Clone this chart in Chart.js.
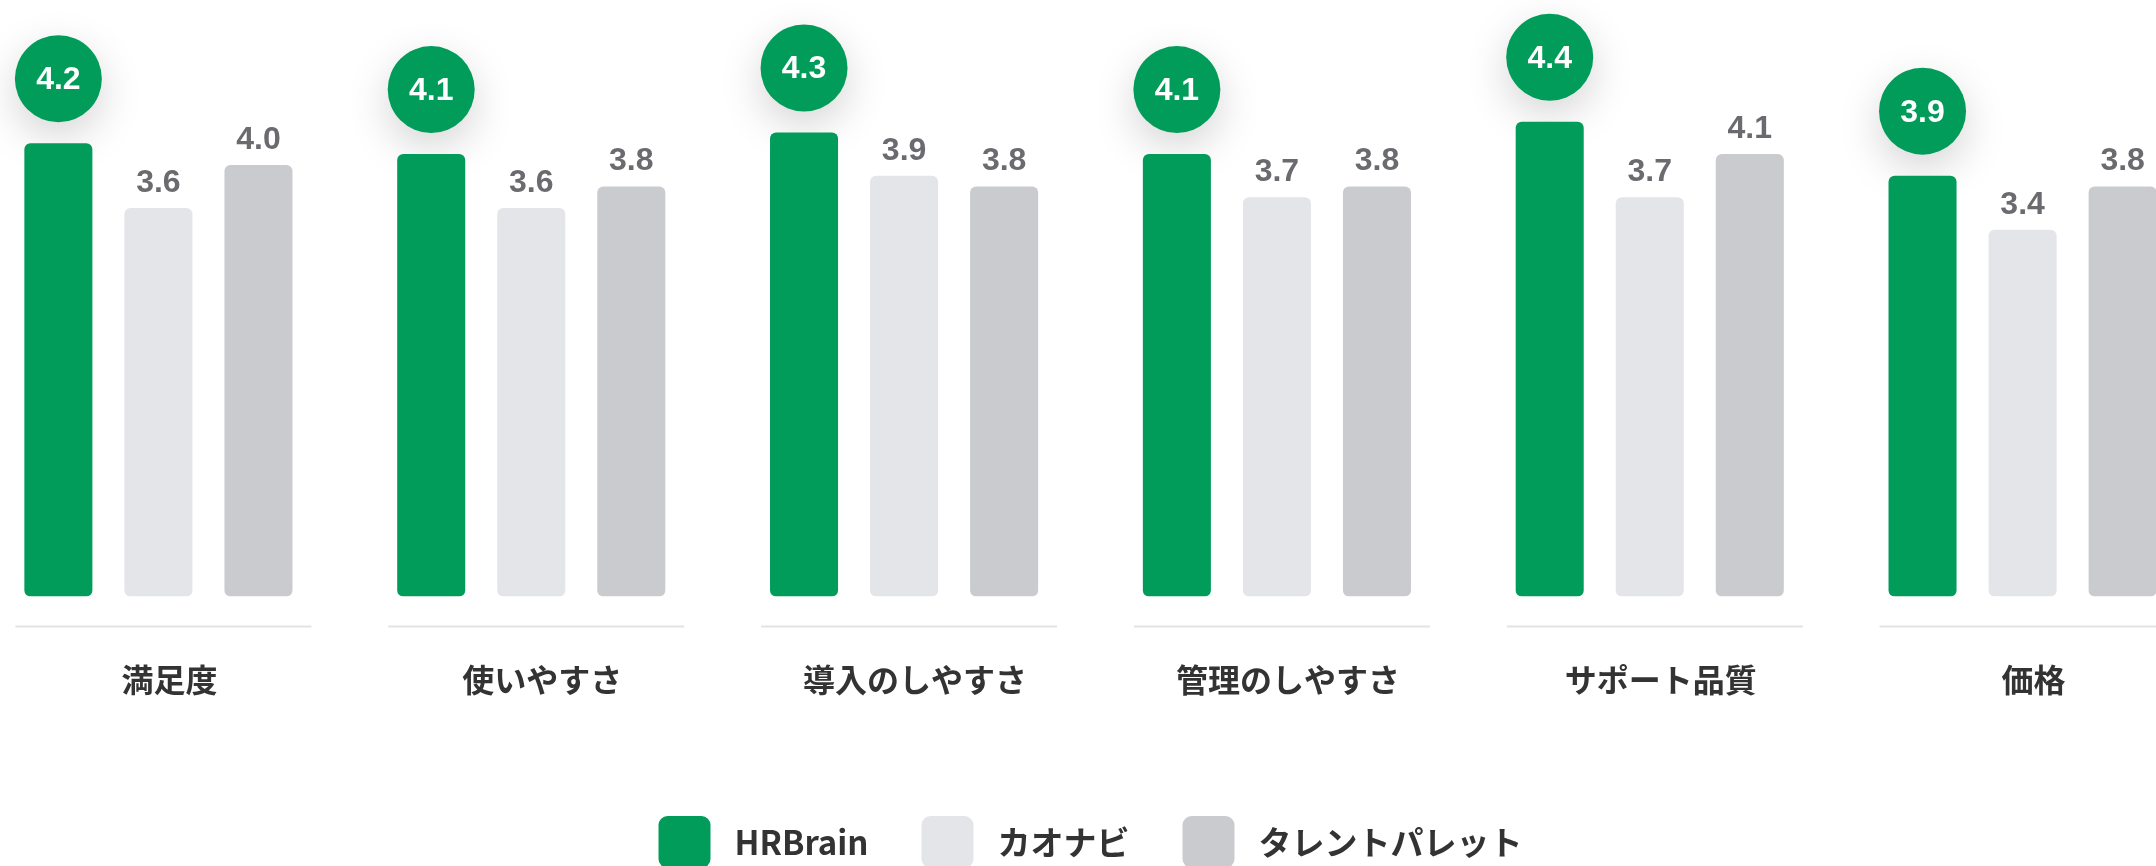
<!DOCTYPE html>
<html>
<head>
<meta charset="utf-8">
<script src="https://cdn.jsdelivr.net/npm/chart.js@4.4.1/dist/chart.umd.min.js"></script>
<style>
  html, body { margin: 0; padding: 0; background: #ffffff; overflow: hidden; width: 2156px; height: 866px; }
  #wrap { position: absolute; left: -28px; top: 0; width: 2237px; height: 878px; }
</style>
</head>
<body>
<div id="wrap"><canvas id="c" width="2237" height="878"></canvas></div>
<script>
const categories = ['満足度', '使いやすさ', '導入のしやすさ', '管理のしやすさ', 'サポート品質', '価格'];
const seriesNames = ['HRBrain', 'カオナビ', 'タレントパレット'];
const hrbrain = [4.2, 4.1, 4.3, 4.1, 4.4, 3.9];
const kaonavi = [3.6, 3.6, 3.9, 3.7, 3.7, 3.4];
const talentPalette = [4.0, 3.8, 3.8, 3.8, 4.1, 3.8];
const colors = ['#019c59', '#e4e5e8', '#cacbcf'];

const FONT_JP = "'Noto Sans CJK JP', 'Noto Sans', sans-serif";
const FONT_NUM = "'Liberation Sans', Arial, sans-serif";

const decorPlugin = {
  id: 'decor',
  beforeDatasetsDraw(chart) {
    const ctx = chart.ctx;
    const x = chart.scales.x;
    const bottom = chart.chartArea.bottom;
    ctx.save();
    ctx.strokeStyle = '#e3e3e5';
    ctx.lineWidth = 2;
    categories.forEach((c, i) => {
      const cx = x.getPixelForValue(i);
      ctx.beginPath();
      ctx.moveTo(cx - 143, bottom + 30);
      ctx.lineTo(cx + 153, bottom + 30);
      ctx.stroke();
    });
    ctx.restore();
    const meta = chart.getDatasetMeta(0);
    meta.data.forEach((bar) => {
      ctx.save();
      ctx.shadowColor = 'rgba(0,0,0,0.17)';
      ctx.shadowBlur = 42;
      ctx.shadowOffsetY = 14;
      ctx.fillStyle = colors[0];
      ctx.beginPath();
      ctx.arc(bar.x, bar.y - 64.5, 43.5, 0, Math.PI * 2);
      ctx.fill();
      ctx.restore();
    });
  },
  afterDatasetsDraw(chart) {
    const ctx = chart.ctx;
    ctx.save();
    ctx.textAlign = 'center';
    const m0 = chart.getDatasetMeta(0);
    ctx.font = 'bold 32px ' + FONT_NUM;
    ctx.textBaseline = 'middle';
    ctx.fillStyle = '#ffffff';
    m0.data.forEach((bar, i) => {
      ctx.fillText(chart.data.datasets[0].data[i].toFixed(1), bar.x, bar.y - 63);
    });
    ctx.textBaseline = 'alphabetic';
    ctx.fillStyle = '#6a6a6f';
    [1, 2].forEach((d) => {
      const meta = chart.getDatasetMeta(d);
      meta.data.forEach((bar, i) => {
        ctx.fillText(chart.data.datasets[d].data[i].toFixed(1), bar.x, bar.y - 16);
      });
    });
    ctx.restore();
  }
};

new Chart(document.getElementById('c'), {
  type: 'bar',
  data: {
    labels: categories,
    datasets: [
      { label: seriesNames[0], data: hrbrain, backgroundColor: colors[0] },
      { label: seriesNames[1], data: kaonavi, backgroundColor: colors[1] },
      { label: seriesNames[2], data: talentPalette, backgroundColor: colors[2] }
    ]
  },
  options: {
    responsive: false,
    animation: false,
    layout: { padding: { top: 3, left: 0, right: 0, bottom: 0 } },
    datasets: {
      bar: {
        categoryPercentage: 0.805,
        barPercentage: 0.68,
        borderRadius: 6,
        borderSkipped: false,
        borderWidth: 0
      }
    },
    scales: {
      x: {
        grid: { display: false, drawTicks: false },
        border: { display: false },
        ticks: {
          color: '#333333',
          font: { family: FONT_JP, size: 32, weight: 'bold' },
          padding: 64,
          labelOffset: 11,
          maxRotation: 0,
          autoSkip: false
        }
      },
      y: {
        display: false,
        min: 0,
        max: 5.5
      }
    },
    plugins: {
      tooltip: { enabled: false },
      legend: {
        position: 'bottom',
        labels: {
          boxWidth: 52,
          boxHeight: 52,
          useBorderRadius: true,
          borderRadius: 9,
          padding: 53,
          color: '#333333',
          font: { family: FONT_JP, size: 33, weight: 'bold' },
          generateLabels(chart) {
            return chart.data.datasets.map((ds, i) => ({
              text: ' ' + ds.label,
              fillStyle: ds.backgroundColor,
              strokeStyle: ds.backgroundColor,
              lineWidth: 0,
              borderRadius: 9,
              fontColor: '#333333',
              hidden: false,
              datasetIndex: i
            }));
          }
        }
      }
    }
  },
  plugins: [decorPlugin]
});
</script>
</body>
</html>
